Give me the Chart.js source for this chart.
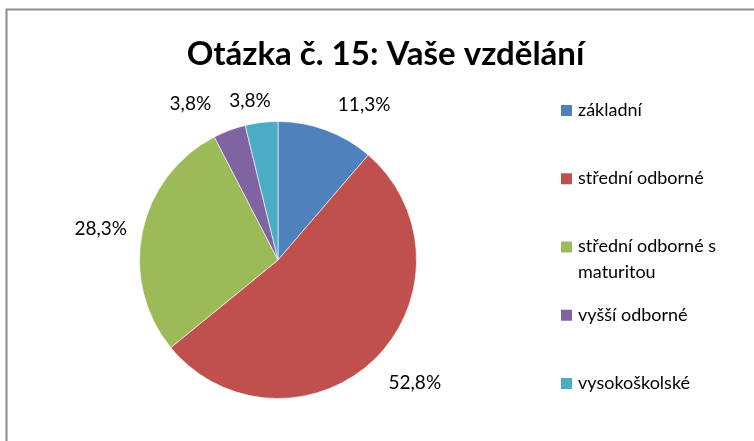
<!DOCTYPE html>
<html>
<head>
<meta charset="utf-8">
<script src="https://cdn.jsdelivr.net/npm/chart.js@4/dist/chart.umd.min.js"></script>
<style>
html,body{margin:0;padding:0;background:#fff;}
#wrap{position:relative;width:754px;height:441px;}
</style>
</head>
<body>
<div id="wrap"><canvas id="c" width="754" height="441"></canvas></div>
<script>
const titleText = "Otázka č. 15: Vaše vzdělání";
const categories = ["základní", "střední odborné", "střední odborné s maturitou", "vyšší odborné", "vysokoškolské"];
const values = [11.3, 52.8, 28.3, 3.8, 3.8];
const colors = ["#4F81BD", "#C0504D", "#9BBB59", "#8064A2", "#4BACC6"];

const FONT = "Lato, 'Open Sans', sans-serif";
// label nudges relative to mid-angle anchor (layout only)
const labelNudge = [[25,10],[14,-3],[-5,5],[-26,9],[-7,16]];

const framePlugin = {
  id: 'frame',
  beforeDraw(chart) {
    const ctx = chart.ctx;
    ctx.save();
    ctx.fillStyle = '#fff';
    ctx.fillRect(0,0,chart.width,chart.height);
    ctx.strokeStyle = '#8c8c8c';
    ctx.lineWidth = 2;
    ctx.beginPath();
    ctx.moveTo(6.5, chart.height);
    ctx.lineTo(6.5, 9.5);
    ctx.lineTo(chart.width, 9.5);
    ctx.stroke();
    ctx.restore();
  }
};

const textPlugin = {
  id: 'texts',
  afterDraw(chart) {
    const ctx = chart.ctx;
    ctx.save();
    // title
    ctx.fillStyle = '#000';
    ctx.font = "bold 33px " + FONT;
    ctx.textAlign = 'center';
    ctx.textBaseline = 'alphabetic';
    ctx.fillText(titleText, 385.5, 65);

    // data labels
    ctx.textBaseline = 'middle';
    const meta = chart.getDatasetMeta(0);
    ctx.font = "19px " + FONT;
    meta.data.forEach((arc, i) => {
      const p = arc.getProps(['x','y','startAngle','endAngle','outerRadius'], true);
      const mid = (p.startAngle + p.endAngle) / 2;
      const r = p.outerRadius * 1.27;
      const x = p.x + Math.cos(mid) * r + labelNudge[i][0];
      const y = p.y + Math.sin(mid) * r + labelNudge[i][1];
      const txt = values[i].toFixed(1).replace('.', ',') + '%';
      ctx.fillText(txt, x, y);
    });

    // legend
    ctx.font = "18px " + FONT;
    ctx.textAlign = 'left';
    const lx = 561, tx = 578, y0 = 110, step = 68.25, lineH = 26, maxW = 170;
    categories.forEach((name, i) => {
      const y = y0 + i * step;
      ctx.fillStyle = colors[i];
      ctx.fillRect(lx, y - 5, 11, 11);
      ctx.fillStyle = '#000';
      const words = name.split(' ');
      const lines = [];
      let cur = '';
      words.forEach(w => {
        const t = cur ? cur + ' ' + w : w;
        if (ctx.measureText(t).width > maxW && cur) { lines.push(cur); cur = w; }
        else cur = t;
      });
      lines.push(cur);
      lines.forEach((ln, k) => ctx.fillText(ln, tx, y + k * lineH));
    });
    ctx.restore();
  }
};

new Chart(document.getElementById('c'), {
  type: 'pie',
  data: {
    labels: categories,
    datasets: [{
      data: values,
      backgroundColor: colors,
      borderColor: 'rgba(255,255,255,0.6)',
      borderWidth: 1
    }]
  },
  options: {
    responsive: false,
    animation: false,
    layout: { padding: { left: 139, right: 337, top: 121, bottom: 42 } },
    plugins: {
      legend: { display: false },
      title: { display: false },
      tooltip: { enabled: false }
    }
  },
  plugins: [framePlugin, textPlugin]
});
</script>
</body>
</html>
